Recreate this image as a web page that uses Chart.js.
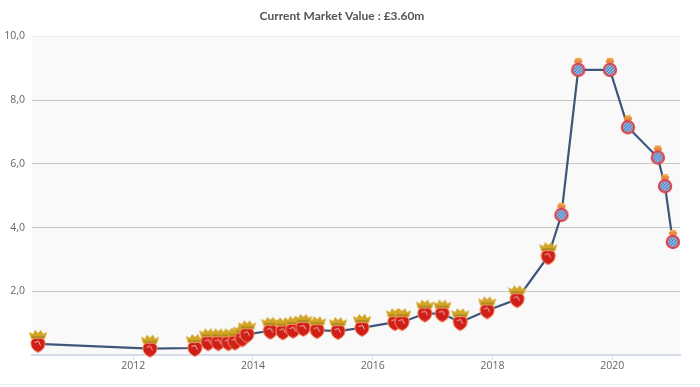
<!DOCTYPE html>
<html>
<head>
<meta charset="utf-8">
<script src="https://cdn.jsdelivr.net/npm/chart.js@4"></script>
<style>
  html, body { margin: 0; padding: 0; background: #fff; }
  #wrap { width: 700px; height: 384px; border-bottom: 1px solid #ececec; }
</style>
</head>
<body>
<div id="wrap"><canvas id="valueChart" width="700" height="384"></canvas></div>
<script>
// values, x is a decimal year
var years = [2010.41, 2012.28, 2013.03, 2013.25, 2013.42, 2013.59, 2013.70, 2013.82, 2013.90,
             2014.29, 2014.50, 2014.67, 2014.84, 2015.07, 2015.42, 2015.82, 2016.37, 2016.49,
             2016.87, 2017.16, 2017.46, 2017.91, 2018.41, 2018.93, 2019.15, 2019.43, 2019.96,
             2020.26, 2020.76, 2020.88, 2021.01];
var marketValues = [0.35, 0.2, 0.22, 0.4, 0.4, 0.4, 0.42, 0.52, 0.65,
                    0.76, 0.74, 0.79, 0.85, 0.78, 0.75, 0.85, 1.03, 1.03,
                    1.3, 1.3, 1.03, 1.4, 1.75, 3.1, 4.4, 8.95, 8.95,
                    7.15, 6.2, 5.3, 3.55];
var clubs = ['old', 'old', 'old', 'old', 'old', 'old', 'old', 'old', 'old',
             'old', 'old', 'old', 'old', 'old', 'old', 'old', 'old', 'old',
             'old', 'old', 'old', 'old', 'old', 'old', 'new', 'new', 'new',
             'new', 'new', 'new', 'new'];
var xTicks = [2012, 2014, 2016, 2018, 2020];
var yTicks = [0, 2, 4, 6, 8, 10];
var chartTitle = 'Current Market Value : £3.60m';

// red heart shaped shield with a gold crown
function crownIcon() {
    var c = document.createElement('canvas');
    c.width = 22; c.height = 34;
    var g = c.getContext('2d');
    g.filter = 'blur(0.5px)';
    // crown
    g.fillStyle = '#d2a526';
    g.beginPath();
    g.moveTo(2, 5); g.lineTo(6, 7); g.lineTo(8, 3); g.lineTo(11, 6); g.lineTo(14, 3);
    g.lineTo(16, 7); g.lineTo(20, 5); g.lineTo(18, 12); g.lineTo(4, 12);
    g.closePath();
    g.fill();
    g.fillStyle = '#9a7a18';
    g.fillRect(5, 9.5, 12, 1.2);
    // shield
    g.fillStyle = '#cf1f18';
    g.strokeStyle = '#f29a70';
    g.lineWidth = 1;
    g.beginPath();
    g.moveTo(11, 25.5);
    g.bezierCurveTo(5, 23, 3.5, 19, 4, 15);
    g.bezierCurveTo(4.5, 11.5, 9, 10.5, 11, 12);
    g.bezierCurveTo(13, 10.5, 17.5, 11.5, 18, 15);
    g.bezierCurveTo(18.5, 19, 17, 23, 11, 25.5);
    g.closePath();
    g.fill();
    g.stroke();
    // small pale mark in the shield
    g.strokeStyle = '#f0b8ae';
    g.lineWidth = 1;
    g.beginPath();
    g.moveTo(7.5, 15.5); g.lineTo(11.5, 14.5); g.lineTo(13.5, 18.5);
    g.stroke();
    return c;
}

// round red crest with blue stripes
function stripeIcon() {
    var c = document.createElement('canvas');
    c.width = 22; c.height = 34;
    var g = c.getContext('2d');
    g.filter = 'blur(0.4px)';
    g.fillStyle = '#f0a840';
    g.fillRect(8, 5, 6, 3);
    g.fillStyle = '#e98b45';
    g.fillRect(7, 7, 8, 3);
    g.fillStyle = '#d8434a';
    g.beginPath();
    g.arc(11, 17, 7.2, 0, Math.PI * 2);
    g.fill();
    g.save();
    g.beginPath();
    g.arc(11, 17, 4.8, 0, Math.PI * 2);
    g.clip();
    g.fillStyle = '#dfe8f4';
    g.fillRect(4, 10, 14, 14);
    g.strokeStyle = '#3f7fc8';
    g.lineWidth = 1.5;
    for (var i = -8; i <= 12; i += 3.2) {
        g.beginPath();
        g.moveTo(4 + i, 24);
        g.lineTo(18 + i, 10);
        g.stroke();
    }
    g.restore();
    return c;
}

var icons = { old: crownIcon(), 'new': stripeIcon() };

// grey panel behind the plot
var plotBackground = {
    id: 'plotBackground',
    beforeDraw: function (chart) {
        var a = chart.chartArea;
        chart.ctx.save();
        chart.ctx.fillStyle = '#f9f9f9';
        chart.ctx.fillRect(a.left, a.top, a.right - a.left, a.bottom - a.top);
        chart.ctx.restore();
    }
};

var ctx = document.getElementById('valueChart').getContext('2d');
var valueChart = new Chart(ctx, {
    type: 'line',
    data: {
        datasets: [{
            data: years.map(function (y, i) { return { x: y, y: marketValues[i] }; }),
            borderColor: '#3d5679',
            borderWidth: 2.2,
            tension: 0,
            clip: false,
            pointStyle: clubs.map(function (k) { return icons[k]; }),
            pointRadius: 10
        }]
    },
    options: {
        responsive: false,
        animation: false,
        layout: { padding: { left: 4, right: 20, top: 0, bottom: 0 } },
        scales: {
            x: {
                type: 'linear',
                min: 2010.31,
                max: 2021.13,
                afterBuildTicks: function (axis) {
                    axis.ticks = xTicks.map(function (v) { return { value: v }; });
                },
                afterFit: function (axis) { axis.height = 29; },
                ticks: {
                    color: '#666',
                    maxRotation: 0,
                    padding: 0,
                    font: { family: 'Open Sans', size: 10.5 },
                    callback: function (v) { return String(v); }
                },
                grid: { drawOnChartArea: false, color: '#ccd6eb', tickLength: 5, tickColor: '#dde3ee' },
                border: { color: '#d5dce9', width: 2 }
            },
            y: {
                min: 0,
                max: 10,
                afterBuildTicks: function (axis) {
                    axis.ticks = yTicks.map(function (v) { return { value: v }; });
                },
                afterFit: function (axis) { axis.width = 28; },
                ticks: {
                    color: '#666',
                    padding: 7,
                    font: { family: 'Open Sans', size: 10.5 },
                    callback: function (v) { return v === 0 ? '' : v.toFixed(1).replace('.', ','); }
                },
                grid: {
                    drawTicks: false,
                    color: function (c) {
                        return c.tick.value === 0 ? 'rgba(0,0,0,0)' : c.tick.value === 10 ? '#f0f0f0' : '#c8c8c8';
                    }
                },
                border: { display: false }
            }
        },
        plugins: {
            legend: { display: false },
            tooltip: { enabled: false },
            title: {
                display: true,
                text: chartTitle,
                color: '#555',
                font: { family: 'Lato', size: 12, weight: 'bold' },
                padding: { top: 9, bottom: 13 }
            }
        }
    },
    plugins: [plotBackground]
});
</script>
</body>
</html>
